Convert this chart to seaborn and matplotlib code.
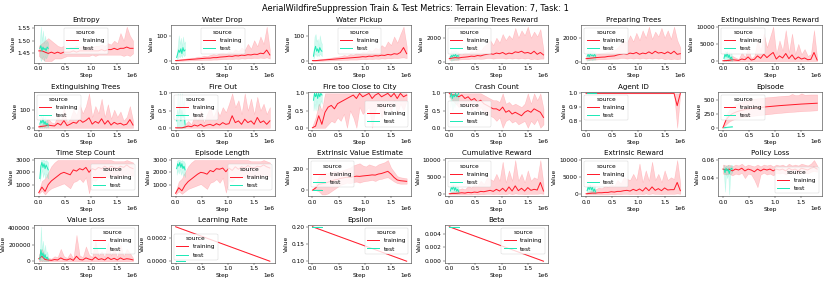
import pandas as pd
import matplotlib
matplotlib.use("Agg")
import matplotlib.pyplot as plt
import seaborn as sns

plt.rcParams["font.size"] = 12
plt.rcParams["lines.linewidth"] = 2.0
plt.rcParams["axes.linewidth"] = 1.2
plt.rcParams["axes.edgecolor"] = "#444444"

# pasos de registro
train_steps = [i * 60000 for i in range(31)]
test_steps = [20000, 40000, 60000, 80000, 100000, 120000, 140000, 160000, 180000]
lin_train_steps = [0, 1800000]
lin_test_steps = [0, 180000]

# Entropy
entropy_train = [1.46, 1.46, 1.455, 1.45, 1.455, 1.45, 1.455, 1.45, 1.455, 1.455,
                 1.455, 1.46, 1.455, 1.46, 1.46, 1.46, 1.46, 1.46, 1.46, 1.46,
                 1.465, 1.46, 1.465, 1.465, 1.47, 1.465, 1.47, 1.47, 1.475, 1.47,
                 1.47]
entropy_train_lo = [1.44, 1.43, 1.42, 1.42, 1.42, 1.43, 1.43, 1.43, 1.435, 1.44,
                    1.44, 1.44, 1.44, 1.44, 1.44, 1.44, 1.44, 1.445, 1.44, 1.445,
                    1.445, 1.445, 1.445, 1.445, 1.445, 1.445, 1.445, 1.44, 1.445, 1.44,
                    1.45]
entropy_train_hi = [1.48, 1.49, 1.50, 1.51, 1.50, 1.49, 1.48, 1.475, 1.48, 1.47,
                    1.475, 1.475, 1.48, 1.475, 1.48, 1.475, 1.48, 1.475, 1.48, 1.48,
                    1.485, 1.48, 1.49, 1.485, 1.50, 1.49, 1.53, 1.50, 1.555, 1.52,
                    1.50]
entropy_test = [1.47, 1.48, 1.46, 1.475, 1.465, 1.47, 1.46, 1.475, 1.47]
entropy_test_lo = [1.44, 1.42, 1.43, 1.44, 1.42, 1.44, 1.43, 1.44, 1.45]
entropy_test_hi = [1.50, 1.555, 1.50, 1.54, 1.49, 1.52, 1.49, 1.50, 1.49]

# Water Drop
drop_train = [2, 3, 4, 5, 6, 7, 8, 9, 10, 11,
              12, 12, 14, 14, 16, 17, 18, 20, 19, 22,
              21, 24, 23, 26, 25, 28, 27, 32, 30, 45,
              25]
drop_train_lo = [0, 1, 1, 2, 2, 3, 3, 4, 4, 5,
                 5, 5, 6, 6, 7, 8, 8, 9, 8, 10,
                 9, 11, 10, 12, 11, 13, 12, 14, 12, 15,
                 10]
drop_train_hi = [4, 6, 8, 10, 12, 14, 14, 18, 18, 22,
                 20, 25, 28, 26, 32, 35, 30, 40, 35, 48,
                 40, 55, 45, 70, 50, 85, 60, 100, 70, 140,
                 45]
drop_test = [15, 30, 45, 35, 50, 30, 55, 40, 45]
drop_test_lo = [8, 12, 20, 15, 25, 15, 30, 20, 25]
drop_test_hi = [25, 60, 105, 70, 95, 60, 100, 70, 80]

# Water Pickup
pickup_train = [2, 2, 3, 4, 5, 6, 7, 8, 9, 10,
                11, 12, 13, 14, 15, 16, 18, 17, 20, 19,
                22, 21, 24, 23, 27, 25, 30, 28, 35, 55,
                30]
pickup_train_lo = [0, 0, 1, 1, 2, 2, 3, 3, 4, 4,
                   5, 5, 6, 6, 6, 7, 8, 7, 9, 8,
                   10, 9, 11, 10, 12, 11, 13, 12, 14, 15,
                   12]
pickup_train_hi = [3, 5, 7, 9, 10, 12, 14, 16, 18, 20,
                   24, 22, 28, 26, 32, 30, 38, 35, 45, 40,
                   55, 48, 65, 55, 80, 65, 100, 75, 110, 140,
                   60]
pickup_test = [20, 45, 60, 40, 50, 35, 55, 45, 40]
pickup_test_lo = [10, 25, 30, 20, 25, 20, 30, 25, 20]
pickup_test_hi = [40, 100, 110, 80, 90, 60, 105, 80, 70]

# Preparing Trees Reward
prep_rew_train = [300, 350, 380, 350, 400, 420, 450, 500, 480, 550,
                  520, 600, 650, 700, 650, 750, 700, 800, 650, 750,
                  700, 850, 800, 900, 750, 800, 700, 900, 650, 800,
                  600]
prep_rew_train_lo = [200, 200, 200, 220, 250, 250, 250, 300, 280, 300,
                     280, 300, 350, 350, 300, 350, 350, 350, 300, 350,
                     300, 350, 300, 350, 300, 350, 250, 300, 250, 300,
                     300]
prep_rew_train_hi = [500, 600, 550, 700, 650, 800, 750, 900, 850, 1100,
                     950, 1300, 1500, 1800, 1400, 2000, 1600, 2300, 1800, 2200,
                     1900, 2800, 2000, 2600, 2200, 2900, 2000, 2500, 2100, 2700,
                     1000]
prep_rew_test = [400, 550, 450, 600, 500, 650, 450, 550, 500]
prep_rew_test_lo = [200, 100, 200, 150, 250, 200, 250, 200, 250]
prep_rew_test_hi = [800, 1000, 700, 1000, 900, 1000, 800, 900, 700]

# Preparing Trees
prep_train = [300, 320, 350, 380, 400, 420, 430, 480, 500, 520,
              600, 650, 700, 650, 750, 700, 800, 650, 750, 700,
              850, 700, 900, 750, 800, 700, 850, 700, 900, 650,
              700]
prep_train_lo = [200, 200, 220, 220, 250, 250, 250, 280, 300, 300,
                 300, 350, 350, 300, 350, 300, 350, 300, 350, 300,
                 350, 300, 350, 300, 350, 250, 300, 250, 300, 250,
                 300]
prep_train_hi = [500, 550, 600, 650, 700, 750, 800, 850, 900, 1000,
                 1200, 1500, 1800, 1600, 2200, 1700, 2400, 1800, 2600, 2000,
                 2900, 1900, 2500, 2100, 2800, 2000, 2600, 1900, 2900, 1800,
                 1200]
prep_test = [500, 650, 450, 700, 550, 600, 500, 650, 500]
prep_test_lo = [100, 200, 150, 250, 200, 150, 250, 200, 250]
prep_test_hi = [900, 1000, 800, 1000, 900, 1000, 800, 900, 700]

# Extinguishing Trees Reward
ext_rew_train = [100, 150, 200, 400, 300, 200, 600, 400, 1200, 300,
                 500, 1500, 800, 2000, 1000, 1800, 2500, 600, 1500, 900,
                 2200, 700, 1800, 500, 1200, 600, 900, 400, 500, 2500,
                 300]
ext_rew_train_lo = [0] * 31
ext_rew_train_hi = [300, 400, 800, 1500, 1000, 600, 2500, 1200, 4000, 800,
                    1500, 6000, 3000, 8000, 4000, 7000, 10000, 2000, 6000, 3000,
                    9000, 2500, 8000, 2000, 5000, 2000, 3500, 1500, 2000, 9000,
                    800]
ext_rew_test = [800, 2000, 1200, 2500, 1000, 1800, 600, 1200, 400]
ext_rew_test_lo = [0, 200, 0, 300, 0, 200, 0, 100, 0]
ext_rew_test_hi = [2000, 3000, 2500, 3000, 2000, 2800, 1500, 2500, 1000]

# Extinguishing Trees
ext_train = [5, 8, 10, 15, 12, 10, 25, 15, 40, 12,
             20, 30, 25, 45, 30, 40, 55, 20, 35, 25,
             50, 20, 40, 15, 30, 20, 25, 15, 20, 45,
             15]
ext_train_lo = [0] * 31
ext_train_hi = [15, 20, 30, 50, 30, 25, 70, 40, 110, 30,
                50, 100, 70, 130, 80, 120, 190, 60, 120, 80,
                160, 60, 130, 50, 100, 60, 90, 40, 60, 120,
                40]
ext_test = [20, 40, 25, 50, 20, 35, 15, 25, 10]
ext_test_lo = [0, 5, 0, 10, 0, 5, 0, 5, 0]
ext_test_hi = [50, 70, 55, 70, 45, 60, 40, 50, 25]

# Fire Out
fire_out_train = [0, 0, 0, 0.02, 0.05, 0.03, 0.08, 0.05, 0.1, 0.04,
                  0.08, 0.1, 0.06, 0.12, 0.08, 0.15, 0.1, 0.12, 0.35, 0.15,
                  0.2, 0.1, 0.25, 0.15, 0.2, 0.1, 0.3, 0.15, 0.2, 0.1,
                  0.2]
fire_out_train_lo = [0] * 31
fire_out_train_hi = [0, 0, 0, 0.1, 0.2, 0.1, 0.35, 0.2, 0.5, 0.15,
                     0.4, 0.6, 0.3, 0.55, 0.35, 0.6, 0.45, 0.7, 1.0, 0.6,
                     0.8, 0.4, 1.0, 0.5, 0.85, 0.4, 0.9, 0.5, 0.7, 0.4,
                     0.6]
fire_out_test = [0.2, 0.5, 0.3, 0.6, 0.2, 0.5, 0.3, 0.4, 0.1]
fire_out_test_lo = [0, 0, 0, 0, 0, 0, 0, 0, 0]
fire_out_test_hi = [0.5, 1.0, 0.6, 1.0, 0.5, 1.0, 0.6, 0.9, 0.3]

# Fire too Close to City
city_train = [0, 0.05, 0.35, 0.1, 0.45, 0.6, 0.65, 0.55, 0.7, 0.75,
              0.8, 0.85, 0.9, 0.95, 0.85, 1.0, 0.9, 0.95, 1.0, 0.85,
              0.95, 1.0, 0.9, 0.95, 1.0, 0.9, 1.0, 0.85, 1.0, 0.9,
              0.95]
city_train_lo = [0, 0, 0, 0, 0, 0.1, 0.2, 0.15, 0.3, 0.2,
                 0.4, 0.0, 0.5, 0.3, 0.0, 0.6, 0.4, 0.5, 0.6, 0.0,
                 0.5, 0.7, 0.3, 0.6, 0.7, 0.5, 0.8, 0.4, 0.7, 0.5,
                 0.8]
city_train_hi = [0.05, 0.3, 0.7, 0.5] + [1.0] * 27
city_test = [0.8, 1.0, 0.9, 1.0, 0.85, 1.0, 0.9, 1.0, 0.95]
city_test_lo = [0.5, 0.7, 0.5, 0.8, 0.5, 0.7, 0.6, 0.8, 0.7]
city_test_hi = [1.0] * 9

# Crash Count
crash_train = [1.0, 0.95, 0.95, 0.9, 0.95, 0.85, 0.9, 0.8, 0.85, 0.75,
               0.8, 0.7, 0.65, 0.6, 0.55, 0.55, 0.5, 0.6, 0.45, 0.5,
               0.4, 0.45, 0.4, 0.35, 0.45, 0.5, 0.45, 0.55, 0.5, 0.45,
               0.3]
crash_train_lo = [0.9, 0.8, 0.7, 0.6, 0.75, 0.6, 0.7, 0.5, 0.65, 0.5,
                  0.6, 0.45, 0.4, 0.35, 0.3, 0.2, 0.3, 0.0, 0.2, 0.25,
                  0.15, 0.2, 0.1, 0.15, 0.2, 0.0, 0.2, 0.1, 0.25, 0.0,
                  0.1]
crash_train_hi = [1.0, 1.0, 1.0, 1.0, 1.0, 1.0, 1.0, 1.0, 1.0, 1.0,
                  1.0, 0.95, 0.9, 0.85, 0.8, 0.8, 0.75, 1.0, 0.7, 0.75,
                  0.65, 0.7, 0.65, 0.6, 0.7, 1.0, 0.7, 1.0, 0.8, 1.0,
                  0.55]
crash_test = [0.9, 1.0, 0.85, 0.95, 0.9, 1.0, 0.9, 0.95, 1.0]
crash_test_lo = [0.6, 0.8, 0.5, 0.7, 0.6, 0.8, 0.7, 0.7, 0.9]
crash_test_hi = [1.0] * 9

# Agent ID
agent_train = [1.0] * 29 + [0.91, 1.0]
agent_train_lo = [1.0] * 29 + [0.75, 1.0]
agent_train_hi = [1.0] * 31
agent_test = [1.0] * 9

# Episode
episode_train = [0, 140, 210, 250, 275, 295, 310, 322, 332, 340,
                 347, 354, 360, 366, 372, 377, 382, 387, 392, 396,
                 400, 404, 408, 412, 416, 420, 423, 426, 429, 432,
                 435]
episode_train_lo = [0, 60, 110, 140, 160, 175, 185, 195, 200, 208,
                    215, 222, 228, 234, 240, 246, 252, 258, 263, 268,
                    273, 278, 282, 286, 290, 294, 297, 300, 303, 306,
                    310]
episode_train_hi = [0, 220, 320, 370, 410, 440, 460, 480, 495, 505,
                    515, 522, 528, 534, 540, 545, 550, 555, 560, 565,
                    568, 572, 600, 578, 580, 610, 585, 588, 590, 590,
                    590]
episode_test = [0, 3, 6, 8, 10, 12, 14, 16, 18]
episode_test_lo = [0, 1, 3, 5, 7, 9, 11, 13, 15]
episode_test_hi = [0, 5, 9, 11, 13, 15, 17, 19, 21]

# Time Step Count
tsc_train = [350, 800, 450, 1000, 1300, 1500, 1700, 1900, 2000, 1900,
             1800, 2200, 2100, 2300, 2200, 2400, 2000, 2300, 2200, 2400,
             2300, 2500, 2300, 2500, 2400, 2300, 2500, 2400, 2600, 2400,
             2300]
tsc_train_lo = [250, 500, 200, 500, 700, 800, 900, 1000, 1100, 900,
                700, 1200, 1300, 1500, 1200, 1600, 300, 1400, 1300, 1600,
                1500, 1700, 1600, 1800, 1700, 1600, 1800, 1700, 1900, 1800,
                1700]
tsc_train_hi = [500, 1300, 1500, 2000, 2500, 2800, 3000, 3000, 3000, 3000,
                3000, 3000, 3000, 3000, 3000, 3000, 3000, 3000, 3000, 3000,
                3000, 3000, 3000, 3000, 2900, 2900, 2900, 2900, 3000, 2900,
                2800]
tsc_test = [1500, 2500, 2800, 2400, 2700, 2300, 2600, 2400, 2200]
tsc_test_lo = [1300, 1800, 2200, 1600, 2000, 1500, 1900, 1600, 1500]
tsc_test_hi = [2000, 3000, 3000, 3000, 3000, 2900, 3000, 2900, 2800]

# Episode Length
eplen_train = [300, 750, 500, 950, 1250, 1450, 1650, 1850, 2000, 1950,
               1850, 2150, 2050, 2300, 2250, 2350, 2050, 2350, 2150, 2450,
               2250, 2450, 2350, 2550, 2400, 2350, 2500, 2450, 2600, 2450,
               2350]
eplen_train_lo = [200, 450, 250, 450, 650, 750, 850, 950, 1050, 850,
                  650, 1150, 1250, 1450, 1150, 1550, 350, 1350, 1250, 1550,
                  1450, 1650, 1550, 1750, 1650, 1550, 1750, 1650, 1850, 1750,
                  1650]
eplen_train_hi = [450, 1250, 1500, 2000, 2500, 2800, 3000, 3000, 3000, 3000,
                  3000, 3000, 3000, 3000, 3000, 3000, 3000, 3000, 3000, 3000,
                  3000, 3000, 3000, 3000, 2900, 2900, 2900, 2900, 3000, 2900,
                  2800]
eplen_test = [2300, 2700, 2500, 2800, 2400, 2700, 2300, 2500, 2200]
eplen_test_lo = [1800, 2200, 1900, 2300, 1800, 2100, 1700, 1900, 1600]
eplen_test_hi = [2900, 3000, 3000, 3000, 2900, 3000, 2900, 2900, 2700]

# Extrinsic Value Estimate
value_est_train = [0, 20, 55, 60, 65, 75, 85, 95, 100, 110,
                   115, 120, 118, 125, 130, 128, 132, 135, 138, 142,
                   140, 150, 155, 165, 175, 150, 118, 95, 88, 85,
                   82]
value_est_train_lo = [0, 0, -10, -40, -40, -30, -10, 10, 30, 50,
                      60, 70, 65, 75, 80, 70, 80, 85, 90, 95,
                      85, 100, 105, 115, 120, 100, 80, 65, 60, 60,
                      60]
value_est_train_hi = [0, 50, 130, 150, 160, 160, 170, 180, 170, 180,
                      190, 200, 210, 230, 240, 250, 230, 220, 240, 230,
                      220, 240, 250, 260, 280, 210, 170, 130, 120, 115,
                      110]
value_est_test = [0] * 9

# Cumulative Reward
cum_train = [200, 300, 300, 400, 500, 400, 600, 500, 700, 600,
             900, 800, 1000, 1200, 900, 1500, 1000, 1800, 900, 2200,
             1000, 2500, 1100, 1800, 1000, 2000, 1200, 1500, 1300, 3500,
             1000]
cum_train_lo = [0, 0, 0, 0, 0, 0, 0, 0, 100, 0,
                100, 100, 200, 200, 100, 200, 100, 200, 100, 300,
                100, 300, 200, 200, 100, 200, 200, 200, 200, 300,
                200]
cum_train_hi = [500, 800, 1000, 1500, 1800, 1500, 2500, 2000, 3000, 2500,
                4000, 3000, 5000, 4500, 4000, 6000, 4000, 9500, 3500, 7000,
                4000, 10000, 4000, 6000, 3500, 7000, 4000, 5000, 4500, 10000,
                3000]
cum_test = [1000, 2000, 1500, 2500, 1200, 2000, 1000, 1500, 800]
cum_test_lo = [200, 500, 300, 800, 300, 500, 200, 400, 200]
cum_test_hi = [2500, 3000, 2800, 3000, 2500, 3000, 2200, 2800, 1500]

# Extrinsic Reward
extr_train = [200, 300, 400, 400, 500, 500, 600, 600, 800, 700,
              900, 900, 1100, 1200, 1000, 1500, 1100, 1600, 1000, 2000,
              1100, 2200, 1200, 1700, 1100, 1900, 1300, 1400, 1400, 3500,
              1100]
extr_train_lo = [0, 0, 0, 0, 0, 0, 0, 0, 100, 0,
                 100, 100, 200, 200, 100, 200, 100, 200, 100, 300,
                 100, 300, 200, 200, 100, 200, 200, 200, 200, 300,
                 200]
extr_train_hi = [500, 900, 1200, 1500, 2000, 1800, 2500, 2200, 3000, 2600,
                 4200, 3200, 5000, 4500, 4200, 6000, 4200, 9000, 3600, 7000,
                 4000, 9500, 4200, 6000, 3600, 7000, 4200, 5000, 4500, 10000,
                 3200]
extr_test = [1100, 2200, 1400, 2600, 1300, 2100, 900, 1600, 700]
extr_test_lo = [200, 500, 300, 800, 300, 500, 200, 400, 200]
extr_test_hi = [2600, 3000, 2800, 3000, 2500, 3000, 2200, 2800, 1500]

# Policy Loss
policy_train = [0.050, 0.049, 0.050, 0.048, 0.050, 0.049, 0.051, 0.048, 0.050, 0.049,
                0.047, 0.050, 0.048, 0.050, 0.049, 0.050, 0.048, 0.050, 0.049, 0.050,
                0.048, 0.051, 0.049, 0.050, 0.048, 0.051, 0.050, 0.049, 0.051, 0.052,
                0.050]
policy_train_lo = [0.045, 0.044, 0.045, 0.043, 0.045, 0.044, 0.046, 0.040, 0.045, 0.044,
                   0.038, 0.030, 0.044, 0.046, 0.044, 0.045, 0.043, 0.046, 0.045, 0.046,
                   0.044, 0.047, 0.045, 0.046, 0.044, 0.047, 0.046, 0.045, 0.047, 0.048,
                   0.047]
policy_train_hi = [0.055, 0.054, 0.055, 0.053, 0.055, 0.054, 0.056, 0.053, 0.055, 0.054,
                   0.053, 0.055, 0.053, 0.055, 0.054, 0.055, 0.053, 0.055, 0.054, 0.055,
                   0.053, 0.056, 0.054, 0.055, 0.054, 0.056, 0.055, 0.054, 0.056, 0.060,
                   0.054]
policy_test = [0.050, 0.046, 0.051, 0.048, 0.050, 0.045, 0.049, 0.051, 0.050]
policy_test_lo = [0.044, 0.025, 0.046, 0.040, 0.045, 0.022, 0.043, 0.046, 0.046]
policy_test_hi = [0.055, 0.052, 0.054, 0.053, 0.055, 0.052, 0.054, 0.055, 0.054]

# Value Loss
vloss_train = [30000, 60000, 20000, 15000, 10000, 20000, 15000, 40000, 20000, 15000,
               30000, 10000, 60000, 20000, 15000, 40000, 25000, 15000, 50000, 20000,
               30000, 15000, 45000, 20000, 35000, 15000, 40000, 20000, 30000, 25000,
               15000]
vloss_train_lo = [0] * 31
vloss_train_hi = [80000, 150000, 60000, 40000, 30000, 60000, 50000, 150000, 60000, 40000,
                  100000, 30000, 320000, 70000, 50000, 180000, 80000, 50000, 250000, 70000,
                  120000, 50000, 230000, 70000, 150000, 50000, 200000, 60000, 150000, 100000,
                  40000]
vloss_test = [20000, 140000, 60000, 100000, 40000, 80000, 30000, 50000, 20000]
vloss_test_lo = [0, 20000, 0, 10000, 0, 5000, 0, 5000, 0]
vloss_test_hi = [60000, 420000, 140000, 250000, 100000, 200000, 80000, 120000, 50000]

# Learning Rate, Epsilon, Beta (lineales)
lr_train = [0.0003, 0.0000]
lr_test = [0.0, 0.0]
eps_train = [0.20, 0.10]
eps_test = [0.20, 0.20]
beta_train = [0.005, 0.0]
beta_test = [0.005, 0.005]

palette = {"training": "#ff1a2a", "test": "#1de9b6"}


def panel(ax, title, xs_tr, tr, tr_lo, tr_hi, xs_te, te, te_lo, te_hi, loc):
    filas = []
    for src, xs, mid, lo, hi in (("training", xs_tr, tr, tr_lo, tr_hi),
                                 ("test", xs_te, te, te_lo, te_hi)):
        lo = mid if lo is None else lo
        hi = mid if hi is None else hi
        for x, a, b, c in zip(xs, lo, mid, hi):
            filas += [(src, x, a), (src, x, b), (src, x, c)]
    df = pd.DataFrame(filas, columns=["source", "Step", "Value"])
    sns.lineplot(data=df, x="Step", y="Value", hue="source",
                 hue_order=["training", "test"], palette=palette,
                 estimator="median", errorbar=("pi", 100), ax=ax)
    ax.set_title(title)
    sns.move_legend(ax, loc)


fig, axes = plt.subplots(4, 6, figsize=(831 / 35.5, 283 / 35.5), dpi=35.5)
fig.subplots_adjust(left=0.041, right=0.989, top=0.912, bottom=0.071,
                    wspace=0.32, hspace=0.76)
a = axes.flatten()

T, E = train_steps, test_steps
panel(a[0], "Entropy", T, entropy_train, entropy_train_lo, entropy_train_hi,
      E, entropy_test, entropy_test_lo, entropy_test_hi, "upper center")
panel(a[1], "Water Drop", T, drop_train, drop_train_lo, drop_train_hi,
      E, drop_test, drop_test_lo, drop_test_hi, "upper center")
panel(a[2], "Water Pickup", T, pickup_train, pickup_train_lo, pickup_train_hi,
      E, pickup_test, pickup_test_lo, pickup_test_hi, "upper center")
panel(a[3], "Preparing Trees Reward", T, prep_rew_train, prep_rew_train_lo, prep_rew_train_hi,
      E, prep_rew_test, prep_rew_test_lo, prep_rew_test_hi, "upper left")
panel(a[4], "Preparing Trees", T, prep_train, prep_train_lo, prep_train_hi,
      E, prep_test, prep_test_lo, prep_test_hi, "upper left")
panel(a[5], "Extinguishing Trees Reward", T, ext_rew_train, ext_rew_train_lo, ext_rew_train_hi,
      E, ext_rew_test, ext_rew_test_lo, ext_rew_test_hi, "upper left")
panel(a[6], "Extinguishing Trees", T, ext_train, ext_train_lo, ext_train_hi,
      E, ext_test, ext_test_lo, ext_test_hi, "upper left")
panel(a[7], "Fire Out", T, fire_out_train, fire_out_train_lo, fire_out_train_hi,
      E, fire_out_test, fire_out_test_lo, fire_out_test_hi, "upper left")
panel(a[8], "Fire too Close to City", T, city_train, city_train_lo, city_train_hi,
      E, city_test, city_test_lo, city_test_hi, "lower right")
panel(a[9], "Crash Count", T, crash_train, crash_train_lo, crash_train_hi,
      E, crash_test, crash_test_lo, crash_test_hi, "lower left")
panel(a[10], "Agent ID", T, agent_train, agent_train_lo, agent_train_hi,
      E, agent_test, None, None, "upper left")
panel(a[11], "Episode", T, episode_train, episode_train_lo, episode_train_hi,
      E, episode_test, episode_test_lo, episode_test_hi, "upper left")
panel(a[12], "Time Step Count", T, tsc_train, tsc_train_lo, tsc_train_hi,
      E, tsc_test, tsc_test_lo, tsc_test_hi, "center right")
panel(a[13], "Episode Length", T, eplen_train, eplen_train_lo, eplen_train_hi,
      E, eplen_test, eplen_test_lo, eplen_test_hi, "center right")
panel(a[14], "Extrinsic Value Estimate", T, value_est_train, value_est_train_lo, value_est_train_hi,
      E, value_est_test, None, None, "upper left")
panel(a[15], "Cumulative Reward", T, cum_train, cum_train_lo, cum_train_hi,
      E, cum_test, cum_test_lo, cum_test_hi, "upper left")
panel(a[16], "Extrinsic Reward", T, extr_train, extr_train_lo, extr_train_hi,
      E, extr_test, extr_test_lo, extr_test_hi, "upper left")
panel(a[17], "Policy Loss", T, policy_train, policy_train_lo, policy_train_hi,
      E, policy_test, policy_test_lo, policy_test_hi, "lower right")
panel(a[18], "Value Loss", T, vloss_train, vloss_train_lo, vloss_train_hi,
      E, vloss_test, vloss_test_lo, vloss_test_hi, "upper right")
panel(a[19], "Learning Rate", lin_train_steps, lr_train, None, None,
      lin_test_steps, lr_test, None, None, "lower left")
panel(a[20], "Epsilon", lin_train_steps, eps_train, None, None,
      lin_test_steps, eps_test, None, None, "upper right")
panel(a[21], "Beta", lin_train_steps, beta_train, None, None,
      lin_test_steps, beta_test, None, None, "upper right")

a[22].axis("off")
a[23].axis("off")

fig.suptitle("AerialWildfireSuppression Train & Test Metrics: Terrain Elevation: 7, Task: 1",
             fontsize=16.8, y=0.985)
fig.savefig("out.png", dpi=35.5)
